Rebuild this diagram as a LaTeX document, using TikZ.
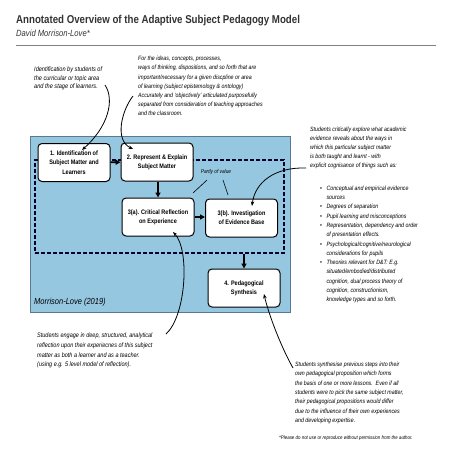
\documentclass[tikz,border=0pt]{standalone}
\usepackage{fontspec}
\setmainfont[FakeStretch=0.85]{Liberation Sans}
\usetikzlibrary{arrows.meta,positioning}
\definecolor{panelblue}{HTML}{95C7E0}
\definecolor{panelrim}{HTML}{5A7890}
\definecolor{titlegray}{HTML}{333333}

\begin{document}
\begin{tikzpicture}[x=1pt,y=-1pt,
      stage/.style={
         draw=black,
         fill=white,
         rounded corners=4pt,
         line width=1pt,
         align=center,
         inner sep=1pt,
         minimum width=72pt,
         minimum height=38pt,
         font=\bfseries\fontsize{6.5}{9.2}\selectfont},
      note/.style={
         anchor=north west,
         align=left,
         inner sep=0pt,
         font=\itshape\fontsize{6.2}{9.3}\selectfont},
      flow/.style={-{Triangle[length=5pt,width=5pt]},line width=1.6pt},
      remark/.style={-{Stealth[length=4.5pt,width=3.5pt]},line width=0.8pt}
      ]
      \useasboundingbox[fill=white] (0,0) rectangle (452,452);

      % heading
      \node[anchor=base west,inner sep=0pt,text=titlegray,font=\bfseries\fontsize{11.4}{14}\selectfont] (title) at (16,24) {Annotated Overview of the Adaptive Subject Pedagogy Model};
      \node[anchor=base west,inner sep=0pt,text=titlegray,font=\itshape\fontsize{9}{10}\selectfont] (author) at (16,37) {David Morrison-Love*};
      \draw[gray,line width=1.5pt] (16,45.5) -- (436,45.5);

      % model panel
      \node[draw=panelrim,fill=panelblue,line width=0.8pt,minimum width=260pt,minimum height=176pt,inner sep=0pt] (panel) at (160,224) {};
      \node[draw=black!80!blue,dashed,dash pattern=on 4pt off 2pt,line width=1.1pt,minimum width=249pt,minimum height=93pt,inner sep=0pt] (evid) at (159.5,206.5) {};
      \node[anchor=base west,inner sep=0pt,font=\itshape\fontsize{8.8}{10}\selectfont] (cite) at (34,304) {Morrison-Love (2019)};

      \node[stage] (ident) at (74,162.5) {1. Identification of\\Subject Matter and\\Learners};
      \node[stage] (repr) at (157,162) {2. Represent \& Explain\\Subject Matter};
      \node[stage] (reflect) at (158,217) {3(a). Critical Reflection\\on Experience};
      \node[stage] (invest) at (241.5,218) {3(b). Investigation\\of Evidence Base};
      \node[stage] (synth) at (244,288) {4. Pedagogical\\Synthesis};

      \draw[flow] (ident) -- (repr);
      \draw[flow] (repr.south -| reflect.north) -- (reflect.north);
      \draw[flow] (reflect) -- (invest.west |- reflect.east);
      \draw[flow] (synth.north |- evid.south) -- (synth.north);

      \node[inner sep=0pt,font=\itshape\fontsize{5.6}{7}\selectfont] (partly) at (216,172) {Partly of value};
      \draw[line width=0.6pt] (207,180) -- (193,193);
      \draw[line width=0.6pt] (223,180) -- (228,195);

      % annotations
      \node[note,font=\itshape\fontsize{6.6}{8.3}\selectfont] (n1) at (34,67) {Identification by students of\\the curricular or topic area\\and the stage of learners.};
      \node[note,font=\itshape\fontsize{6.2}{9.2}\selectfont] (n2) at (138,56) {For the ideas, concepts, processes,\\ways of thinking, dispositions, and so forth that are\\important/necessary for a given discpline or area\\of learning (subject epistemology \& ontology)\\Accurately and `objectively' articulated purposefully\\separated from consideration of teaching approaches\\and the classroom.};
      \node[note,font=\itshape\fontsize{6.2}{9.1}\selectfont] (n3) at (310,126.5) {Students critically explore what academic\\evidence reveals about the ways in\\which this particular subject matter\\is both taught and learnt - with\\explicit cognisance of things such as:};
      \node[note,font=\itshape\fontsize{6.2}{9.3}\selectfont] (n3list) at (320,183.5) {\renewcommand{\arraystretch}{1}%
         \begin{tabular}{@{}l@{\hspace{4.5pt}}l@{}}
         \textbullet & Conceptual and empirical evidence\\
         & sources\\
         \textbullet & Degrees of separation\\
         \textbullet & Pupil learning and misconceptions\\
         \textbullet & Representation, dependency and order\\
         & of presentation effects.\\
         \textbullet & Psychological/cognitive/neurological\\
         & considerations for pupils\\
         \textbullet & Theories relevant for D\&T: E.g.\\
         & situated/embodied/distributed\\
         & cognition, dual process theory of\\
         & cognition, constructionism,\\
         & knowledge types and so forth.
         \end{tabular}};
      \node[note,font=\itshape\fontsize{6.5}{9.8}\selectfont] (n4) at (37,332.5) {Students engage in deep, structured, analytical\\reflection upon their experiecnes of this subject\\matter as both a learner and as a teacher.\\(using e.g. 5 level model of reflection).};
      \node[note,font=\itshape\fontsize{6.2}{9.3}\selectfont] (n5) at (295,362) {Students synthesise previous steps into their\\own pedagogical proposition which forms\\the basis of one or more lessons.\ \ Even if all\\students were to pick the same subject matter,\\their pedagogical propositions would differ\\due to the influence of their own experiences\\and developing expertise.};
      \node[anchor=base west,inner sep=0pt,font=\itshape\fontsize{5.2}{6}\selectfont] (footer) at (279,439) {*Please do not use or reproduce without permission from the author.};

      \coordinate (n1end) at (105,85);
      \coordinate (n2end) at (133,96);
      \coordinate (n3end) at (306,168);
      \coordinate (n4end) at (166,334);
      \coordinate (n5end) at (293,368);

      \draw[remark] (n1end) .. controls (115,100) and (108,127) .. (82,150);
      \draw[remark] (n2end) .. controls (122,110) and (114,140) .. (133,149);
      \draw[remark] (n3end) .. controls (275,167) and (255,182) .. (252,206);
      \draw[remark] (n4end) .. controls (186,316) and (190,250) .. (173,232);
      \draw[remark] (n5end) .. controls (280,345) and (268,312) .. (264,294);

    \end{tikzpicture}
\end{document}
